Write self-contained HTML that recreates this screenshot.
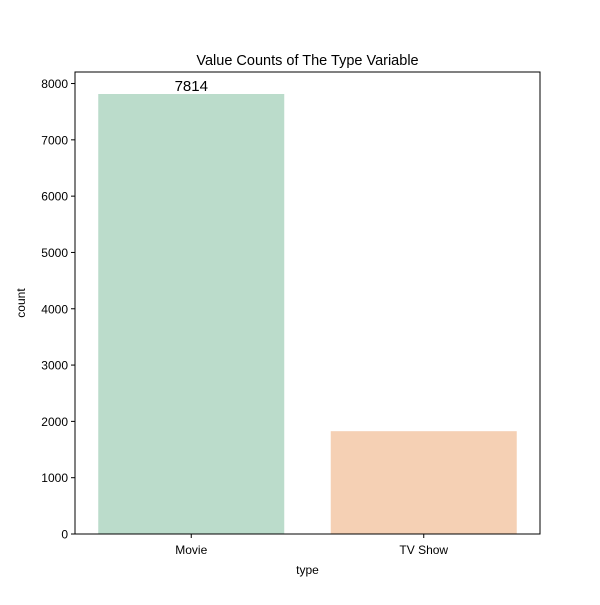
<!DOCTYPE html>
<html><head><meta charset="utf-8"><style>
html,body{margin:0;padding:0;background:#fff;}
text{font-family:"Liberation Sans",Arial,sans-serif;fill:#000;}
</style></head><body>
<svg id="chart" width="600" height="600" xmlns="http://www.w3.org/2000/svg"></svg>
<script>
const categories = ["Movie", "TV Show"];
const counts = [7814, 1826];
const barLabels = ["7814", null];
const yTicks = [0, 1000, 2000, 3000, 4000, 5000, 6000, 7000, 8000];
const colors = ["#bbdccb", "#f5d0b4"];

const L = 75, R = 540, T = 72, B = 534;
const ymax = Math.max(...counts) * 1.05;
const y = v => B - (v / ymax) * (B - T);
const band = (R - L) / categories.length;
const xc = i => L + band * (i + 0.5);
const bw = band * 0.8;
const svg = document.getElementById('chart');
const NS = 'http://www.w3.org/2000/svg';
function mk(tag, attrs, txt) {
  const e = document.createElementNS(NS, tag);
  for (const k in attrs) e.setAttribute(k, attrs[k]);
  if (txt != null) e.textContent = txt;
  svg.appendChild(e);
  return e;
}
counts.forEach((v, i) => {
  const r = mk('rect', {x: xc(i) - bw / 2, y: y(v), width: bw, height: B - y(v), fill: colors[i]});
  
  
  if (barLabels[i]) {
    const t = mk('text', {x: xc(i), y: y(v) - 3, 'text-anchor': 'middle', 'font-size': 15, fill: '#262626'}, barLabels[i]);
    
    
  }
  const tk = mk('line', {x1: xc(i), x2: xc(i), y1: B, y2: B + 4, stroke: '#000', 'stroke-width': 1});
  
  
  const tl = mk('text', {x: xc(i), y: B + 20, 'text-anchor': 'middle', 'font-size': 12}, categories[i]);
  
  
});
yTicks.forEach(v => {
  const tk = mk('line', {x1: L - 4, x2: L, y1: y(v), y2: y(v), stroke: '#000', 'stroke-width': 1});
  
  
  const tl = mk('text', {x: L - 7, y: y(v) + 4.5, 'text-anchor': 'end', 'font-size': 12}, String(v));
  
  
});
const frame = mk('rect', {x: L, y: T, width: R - L, height: B - T, fill: 'none', stroke: '#000', 'stroke-width': 1});


const title = mk('text', {x: (L + R) / 2, y: T - 7, 'text-anchor': 'middle', 'font-size': 14.5}, 'Value Counts of The Type Variable');


const xt = mk('text', {x: (L + R) / 2, y: 574, 'text-anchor': 'middle', 'font-size': 12}, 'type');


const yt = mk('text', {x: 25, y: (T + B) / 2, 'text-anchor': 'middle', 'font-size': 12, transform: 'rotate(-90 25 ' + (T + B) / 2 + ')'}, 'count');


</script>
</body></html>
